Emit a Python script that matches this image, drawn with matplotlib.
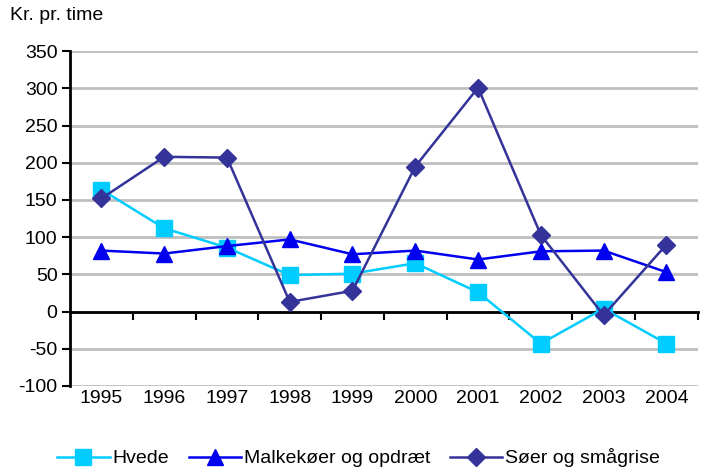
import matplotlib.pyplot as plt

plt.rcParams['font.family'] = ['Liberation Sans', 'DejaVu Sans']

years = ['1995', '1996', '1997', '1998', '1999', '2000', '2001', '2002', '2003', '2004']
hvede = [164, 112, 86, 49, 51, 65, 26, -43, 4, -43]
malkekoer = [82, 78, 88, 97, 77, 82, 70, 81, 82, 53]
soeer = [152, 208, 207, 13, 28, 195, 301, 103, -5, 90]
yticks = [-100, -50, 0, 50, 100, 150, 200, 250, 300, 350]


def main():
	fig = plt.figure(figsize=(7.02, 4.74), dpi=100)
	ax = fig.add_axes([0.0997, 0.1857, 0.8943, 0.7063])
	x = list(range(len(years)))

	ax.plot(x, hvede, color='#00CCFF', marker='s', markersize=11, linewidth=1.8,
			label='Hvede', zorder=3)
	ax.plot(x, malkekoer, color='#0000EE', marker='^', markersize=11, linewidth=1.8,
			label='Malkekøer og opdræt', zorder=3)
	ax.plot(x, soeer, color='#333399', marker='D', markersize=9, linewidth=1.8,
			label='Søer og smågrise', zorder=3)

	ax.set_xlim(-0.5, len(years) - 0.5)
	ax.set_ylim(-100, 350)
	ax.set_yticks(yticks)
	ax.set_yticklabels([str(v) for v in yticks], fontsize=14)
	ax.yaxis.grid(True, color='#BFBFBF', linewidth=2)
	ax.set_axisbelow(True)

	# category axis drawn at y = 0, ticks between categories
	ax.set_xticks([i + 0.5 for i in x])
	ax.set_xticklabels([])
	ax.tick_params(axis='x', direction='out', length=6, width=1.5, color='black')
	ax.spines['bottom'].set_position(('data', 0))
	ax.spines['bottom'].set_linewidth(2)
	ax.spines['left'].set_linewidth(2)
	ax.spines['top'].set_visible(False)
	ax.spines['right'].set_visible(False)
	ax.tick_params(axis='y', direction='out', length=6, width=1.5, pad=3)
	for i, yr in enumerate(years):
		ax.text(i, -105, yr, ha='center', va='top', fontsize=14, clip_on=False)

	fig.text(0.014, 0.968, 'Kr. pr. time', ha='left', va='center', fontsize=14)
	fig.legend(loc='center', bbox_to_anchor=(0.511, 0.034), ncol=3, frameon=False,
			   fontsize=14, handlelength=2.7, columnspacing=1.0, handletextpad=0.15)

	fig.savefig('out.png', dpi=100)


if __name__ == "__main__":
	main()
